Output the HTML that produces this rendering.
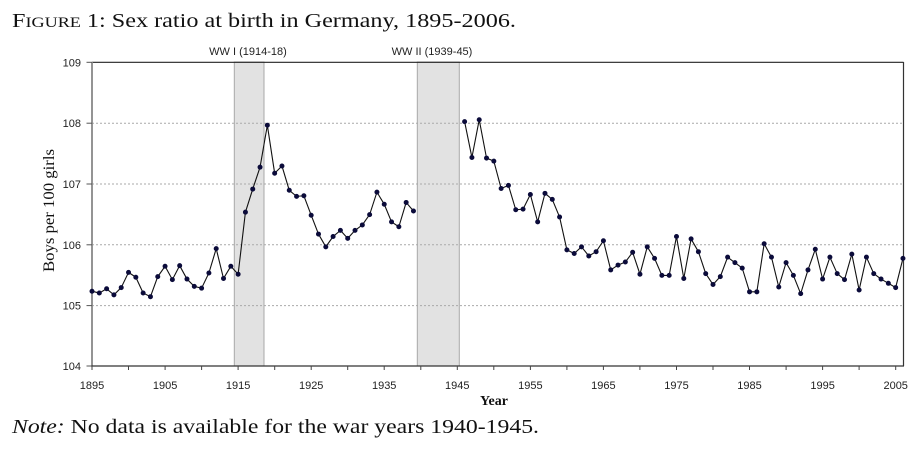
<!DOCTYPE html>
<html><head><meta charset="utf-8"><style>
html,body{margin:0;padding:0;background:#fff;}
svg{display:block;}
</style></head><body>
<svg width="924" height="451" viewBox="0 0 924 451" xmlns="http://www.w3.org/2000/svg">
<rect width="924" height="451" fill="#fff"/>
<!-- title -->
<text x="12" y="27" font-family="Liberation Serif, serif" font-size="20" fill="#111" textLength="504" lengthAdjust="spacingAndGlyphs">F<tspan font-size="15">IGURE</tspan> 1: Sex ratio at birth in Germany, 1895-2006.</text>
<!-- war labels -->
<text x="248" y="55" font-family="Liberation Sans, sans-serif" font-size="11" fill="#222" text-anchor="middle">WW I (1914-18)</text>
<text x="432" y="55" font-family="Liberation Sans, sans-serif" font-size="11" fill="#222" text-anchor="middle">WW II (1939-45)</text>
<!-- bands -->
<rect x="234.3" y="62" width="29.7" height="304" fill="#e2e2e2" stroke="#a8a8a8" stroke-width="1"/>
<rect x="417.3" y="62" width="42" height="304" fill="#e2e2e2" stroke="#a8a8a8" stroke-width="1"/>
<!-- gridlines -->
<g stroke="#a9a9a9" stroke-width="1" stroke-dasharray="2,2">
<line x1="92" y1="123.2" x2="903" y2="123.2"/>
<line x1="92" y1="184" x2="903" y2="184"/>
<line x1="92" y1="244.8" x2="903" y2="244.8"/>
<line x1="92" y1="305.6" x2="903" y2="305.6"/>
</g>
<!-- frame -->
<line x1="92" y1="62.3" x2="903.5" y2="62.3" stroke="#222" stroke-width="1.2"/>
<line x1="903.5" y1="62" x2="903.5" y2="366" stroke="#333" stroke-width="1.2"/>
<line x1="92" y1="62" x2="92" y2="366.5" stroke="#888" stroke-width="1.8"/>
<line x1="91" y1="366" x2="904" y2="366" stroke="#333" stroke-width="1.3"/>
<!-- y ticks -->
<g stroke="#555" stroke-width="1">
<line x1="86.5" y1="62.3" x2="92" y2="62.3"/>
<line x1="86.5" y1="123.2" x2="92" y2="123.2"/>
<line x1="86.5" y1="184" x2="92" y2="184"/>
<line x1="86.5" y1="244.8" x2="92" y2="244.8"/>
<line x1="86.5" y1="305.6" x2="92" y2="305.6"/>
<line x1="86.5" y1="366" x2="92" y2="366"/>
</g>
<g font-family="Liberation Sans, sans-serif" font-size="11" fill="#222" text-anchor="end">
<text x="81" y="66.3">109</text>
<text x="81" y="127.2">108</text>
<text x="81" y="188">107</text>
<text x="81" y="248.8">106</text>
<text x="81" y="309.6">105</text>
<text x="81" y="370">104</text>
</g>
<!-- x ticks -->
<g stroke="#444" stroke-width="1">
<line x1="92" y1="366" x2="92" y2="370"/>
<line x1="128.5" y1="366" x2="128.5" y2="370"/>
<line x1="165.1" y1="366" x2="165.1" y2="370"/>
<line x1="201.6" y1="366" x2="201.6" y2="370"/>
<line x1="238.1" y1="366" x2="238.1" y2="370"/>
<line x1="274.7" y1="366" x2="274.7" y2="370"/>
<line x1="311.2" y1="366" x2="311.2" y2="370"/>
<line x1="347.7" y1="366" x2="347.7" y2="370"/>
<line x1="384.2" y1="366" x2="384.2" y2="370"/>
<line x1="420.8" y1="366" x2="420.8" y2="370"/>
<line x1="457.3" y1="366" x2="457.3" y2="370"/>
<line x1="493.8" y1="366" x2="493.8" y2="370"/>
<line x1="530.4" y1="366" x2="530.4" y2="370"/>
<line x1="566.9" y1="366" x2="566.9" y2="370"/>
<line x1="603.4" y1="366" x2="603.4" y2="370"/>
<line x1="639.9" y1="366" x2="639.9" y2="370"/>
<line x1="676.5" y1="366" x2="676.5" y2="370"/>
<line x1="713" y1="366" x2="713" y2="370"/>
<line x1="749.5" y1="366" x2="749.5" y2="370"/>
<line x1="786.1" y1="366" x2="786.1" y2="370"/>
<line x1="822.6" y1="366" x2="822.6" y2="370"/>
<line x1="859.1" y1="366" x2="859.1" y2="370"/>
<line x1="895.7" y1="366" x2="895.7" y2="370"/>
</g>
<g font-family="Liberation Sans, sans-serif" font-size="11" fill="#222" text-anchor="middle">
<text x="92" y="389">1895</text>
<text x="165.1" y="389">1905</text>
<text x="238.1" y="389">1915</text>
<text x="311.2" y="389">1925</text>
<text x="384.2" y="389">1935</text>
<text x="457.3" y="389">1945</text>
<text x="530.4" y="389">1955</text>
<text x="603.4" y="389">1965</text>
<text x="676.5" y="389">1975</text>
<text x="749.5" y="389">1985</text>
<text x="822.6" y="389">1995</text>
<text x="895.7" y="389">2005</text>
</g>
<!-- axis titles -->
<text x="494" y="405" font-family="Liberation Serif, serif" font-size="14" font-weight="bold" fill="#111" text-anchor="middle">Year</text>
<text transform="translate(54,210.5) rotate(-90)" x="0" y="0" font-family="Liberation Serif, serif" font-size="16" fill="#111" text-anchor="middle" textLength="123" lengthAdjust="spacingAndGlyphs">Boys per 100 girls</text>
<!-- data -->
<g transform="translate(92,366) scale(7.306,-60.8) translate(-1895,-104)">
<polyline fill="none" stroke="#111" stroke-width="1.1" vector-effect="non-scaling-stroke" stroke-linejoin="round" points="1895,105.23 1896,105.20 1897,105.27 1898,105.17 1899,105.29 1900,105.54 1901,105.46 1902,105.20 1903,105.14 1904,105.47 1905,105.64 1906,105.42 1907,105.65 1908,105.43 1909,105.31 1910,105.28 1911,105.53 1912,105.93 1913,105.44 1914,105.64 1915,105.51 1916,106.53 1917,106.91 1918,107.27 1919,107.96 1920,107.17 1921,107.29 1922,106.89 1923,106.79 1924,106.80 1925,106.48 1926,106.17 1927,105.96 1928,106.13 1929,106.23 1930,106.10 1931,106.23 1932,106.32 1933,106.49 1934,106.86 1935,106.66 1936,106.37 1937,106.29 1938,106.69 1939,106.55"/>
<polyline fill="none" stroke="#111" stroke-width="1.1" vector-effect="non-scaling-stroke" stroke-linejoin="round" points="1946,108.02 1947,107.43 1948,108.05 1949,107.42 1950,107.37 1951,106.92 1952,106.97 1953,106.57 1954,106.58 1955,106.82 1956,106.37 1957,106.84 1958,106.74 1959,106.45 1960,105.91 1961,105.85 1962,105.96 1963,105.81 1964,105.88 1965,106.06 1966,105.58 1967,105.66 1968,105.71 1969,105.87 1970,105.51 1971,105.96 1972,105.77 1973,105.49 1974,105.49 1975,106.13 1976,105.44 1977,106.09 1978,105.88 1979,105.52 1980,105.34 1981,105.47 1982,105.79 1983,105.70 1984,105.61 1985,105.22 1986,105.22 1987,106.01 1988,105.79 1989,105.30 1990,105.70 1991,105.49 1992,105.19 1993,105.58 1994,105.92 1995,105.43 1996,105.79 1997,105.52 1998,105.42 1999,105.84 2000,105.25 2001,105.79 2002,105.52 2003,105.43 2004,105.36 2005,105.29 2006,105.77"/>
<path fill="none" stroke="#0b0b3a" stroke-width="5" stroke-linecap="round" vector-effect="non-scaling-stroke" d="M1895,105.23h0.001M1896,105.20h0.001M1897,105.27h0.001M1898,105.17h0.001M1899,105.29h0.001M1900,105.54h0.001M1901,105.46h0.001M1902,105.20h0.001M1903,105.14h0.001M1904,105.47h0.001M1905,105.64h0.001M1906,105.42h0.001M1907,105.65h0.001M1908,105.43h0.001M1909,105.31h0.001M1910,105.28h0.001M1911,105.53h0.001M1912,105.93h0.001M1913,105.44h0.001M1914,105.64h0.001M1915,105.51h0.001M1916,106.53h0.001M1917,106.91h0.001M1918,107.27h0.001M1919,107.96h0.001M1920,107.17h0.001M1921,107.29h0.001M1922,106.89h0.001M1923,106.79h0.001M1924,106.80h0.001M1925,106.48h0.001M1926,106.17h0.001M1927,105.96h0.001M1928,106.13h0.001M1929,106.23h0.001M1930,106.10h0.001M1931,106.23h0.001M1932,106.32h0.001M1933,106.49h0.001M1934,106.86h0.001M1935,106.66h0.001M1936,106.37h0.001M1937,106.29h0.001M1938,106.69h0.001M1939,106.55h0.001M1946,108.02h0.001M1947,107.43h0.001M1948,108.05h0.001M1949,107.42h0.001M1950,107.37h0.001M1951,106.92h0.001M1952,106.97h0.001M1953,106.57h0.001M1954,106.58h0.001M1955,106.82h0.001M1956,106.37h0.001M1957,106.84h0.001M1958,106.74h0.001M1959,106.45h0.001M1960,105.91h0.001M1961,105.85h0.001M1962,105.96h0.001M1963,105.81h0.001M1964,105.88h0.001M1965,106.06h0.001M1966,105.58h0.001M1967,105.66h0.001M1968,105.71h0.001M1969,105.87h0.001M1970,105.51h0.001M1971,105.96h0.001M1972,105.77h0.001M1973,105.49h0.001M1974,105.49h0.001M1975,106.13h0.001M1976,105.44h0.001M1977,106.09h0.001M1978,105.88h0.001M1979,105.52h0.001M1980,105.34h0.001M1981,105.47h0.001M1982,105.79h0.001M1983,105.70h0.001M1984,105.61h0.001M1985,105.22h0.001M1986,105.22h0.001M1987,106.01h0.001M1988,105.79h0.001M1989,105.30h0.001M1990,105.70h0.001M1991,105.49h0.001M1992,105.19h0.001M1993,105.58h0.001M1994,105.92h0.001M1995,105.43h0.001M1996,105.79h0.001M1997,105.52h0.001M1998,105.42h0.001M1999,105.84h0.001M2000,105.25h0.001M2001,105.79h0.001M2002,105.52h0.001M2003,105.43h0.001M2004,105.36h0.001M2005,105.29h0.001M2006,105.77h0.001"/>
</g>
<!-- note -->
<text x="12" y="433" font-family="Liberation Serif, serif" font-size="20" fill="#111" textLength="527" lengthAdjust="spacingAndGlyphs"><tspan font-style="italic">Note:</tspan> No data is available for the war years 1940-1945.</text>
</svg>
</body></html>
